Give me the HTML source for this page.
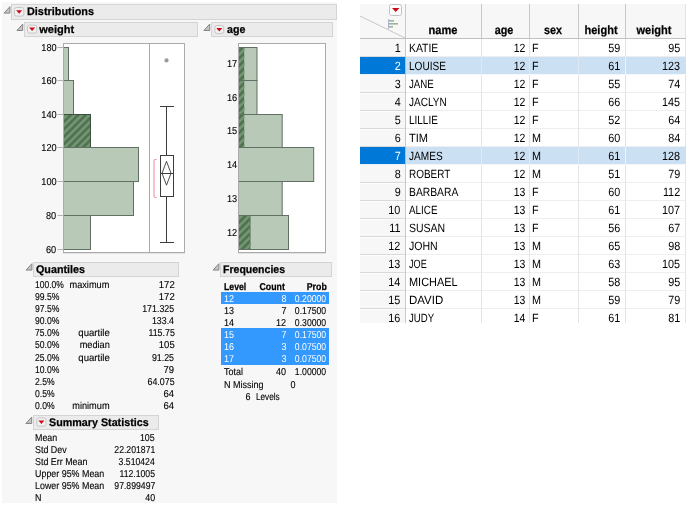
<!DOCTYPE html>
<html><head><meta charset="utf-8"><title>Distributions</title>
<style>
html,body{margin:0;padding:0;background:#fff;}
body{width:689px;height:506px;position:relative;overflow:hidden;font-family:"Liberation Sans",sans-serif;text-rendering:geometricPrecision;}
.t{position:absolute;white-space:nowrap;display:block;}
.b{position:absolute;}
svg{position:absolute;left:0;top:0;}
</style></head><body>
<div class="b" style="left:2px;top:2px;width:335px;height:501px;background:#f7f7f7;"></div>
<div class="b" style="left:11px;top:4px;width:326px;height:16px;background:#ebebeb;border:1px solid #d4d4d4;box-sizing:border-box;"></div>
<div class="b" style="left:24px;top:22px;width:174px;height:15px;background:#ebebeb;border:1px solid #d4d4d4;box-sizing:border-box;"></div>
<div class="b" style="left:211px;top:22px;width:122px;height:15px;background:#ebebeb;border:1px solid #d4d4d4;box-sizing:border-box;"></div>
<div class="b" style="left:33px;top:262px;width:146px;height:15px;background:#ebebeb;border:1px solid #d4d4d4;box-sizing:border-box;"></div>
<div class="b" style="left:33px;top:415px;width:126px;height:15px;background:#ebebeb;border:1px solid #d4d4d4;box-sizing:border-box;"></div>
<div class="b" style="left:220px;top:262px;width:112px;height:15px;background:#ebebeb;border:1px solid #d4d4d4;box-sizing:border-box;"></div>
<div class="b" style="left:221px;top:292px;width:108px;height:12px;background:#3399ff;"></div>
<div class="b" style="left:221px;top:328px;width:108px;height:12px;background:#3399ff;"></div>
<div class="b" style="left:221px;top:340px;width:108px;height:12px;background:#3399ff;"></div>
<div class="b" style="left:221px;top:352px;width:108px;height:13px;background:#3399ff;"></div>
<div class="b" style="left:360px;top:4px;width:326px;height:35px;background:#f7f7f7;"></div>
<div class="b" style="left:360px;top:39px;width:46px;height:284px;background:#f7f7f7;"></div>
<div class="b" style="left:406px;top:39px;width:280px;height:284px;background:#fff;"></div>
<div class="b" style="left:360px;top:56px;width:46px;height:1px;background:#d9d9d9;"></div>
<div class="b" style="left:360px;top:57px;width:45px;height:1px;background:#fdfdfd;"></div>
<div class="b" style="left:406px;top:56px;width:280px;height:1px;background:#eeeef1;"></div>
<div class="b" style="left:360px;top:92px;width:46px;height:1px;background:#d9d9d9;"></div>
<div class="b" style="left:360px;top:93px;width:45px;height:1px;background:#fdfdfd;"></div>
<div class="b" style="left:406px;top:92px;width:280px;height:1px;background:#eeeef1;"></div>
<div class="b" style="left:360px;top:110px;width:46px;height:1px;background:#d9d9d9;"></div>
<div class="b" style="left:360px;top:111px;width:45px;height:1px;background:#fdfdfd;"></div>
<div class="b" style="left:406px;top:110px;width:280px;height:1px;background:#eeeef1;"></div>
<div class="b" style="left:360px;top:128px;width:46px;height:1px;background:#d9d9d9;"></div>
<div class="b" style="left:360px;top:129px;width:45px;height:1px;background:#fdfdfd;"></div>
<div class="b" style="left:406px;top:128px;width:280px;height:1px;background:#eeeef1;"></div>
<div class="b" style="left:360px;top:146px;width:46px;height:1px;background:#d9d9d9;"></div>
<div class="b" style="left:360px;top:147px;width:45px;height:1px;background:#fdfdfd;"></div>
<div class="b" style="left:406px;top:146px;width:280px;height:1px;background:#eeeef1;"></div>
<div class="b" style="left:360px;top:182px;width:46px;height:1px;background:#d9d9d9;"></div>
<div class="b" style="left:360px;top:183px;width:45px;height:1px;background:#fdfdfd;"></div>
<div class="b" style="left:406px;top:182px;width:280px;height:1px;background:#eeeef1;"></div>
<div class="b" style="left:360px;top:200px;width:46px;height:1px;background:#d9d9d9;"></div>
<div class="b" style="left:360px;top:201px;width:45px;height:1px;background:#fdfdfd;"></div>
<div class="b" style="left:406px;top:200px;width:280px;height:1px;background:#eeeef1;"></div>
<div class="b" style="left:360px;top:218px;width:46px;height:1px;background:#d9d9d9;"></div>
<div class="b" style="left:360px;top:219px;width:45px;height:1px;background:#fdfdfd;"></div>
<div class="b" style="left:406px;top:218px;width:280px;height:1px;background:#eeeef1;"></div>
<div class="b" style="left:360px;top:236px;width:46px;height:1px;background:#d9d9d9;"></div>
<div class="b" style="left:360px;top:237px;width:45px;height:1px;background:#fdfdfd;"></div>
<div class="b" style="left:406px;top:236px;width:280px;height:1px;background:#eeeef1;"></div>
<div class="b" style="left:360px;top:254px;width:46px;height:1px;background:#d9d9d9;"></div>
<div class="b" style="left:360px;top:255px;width:45px;height:1px;background:#fdfdfd;"></div>
<div class="b" style="left:406px;top:254px;width:280px;height:1px;background:#eeeef1;"></div>
<div class="b" style="left:360px;top:272px;width:46px;height:1px;background:#d9d9d9;"></div>
<div class="b" style="left:360px;top:273px;width:45px;height:1px;background:#fdfdfd;"></div>
<div class="b" style="left:406px;top:272px;width:280px;height:1px;background:#eeeef1;"></div>
<div class="b" style="left:360px;top:290px;width:46px;height:1px;background:#d9d9d9;"></div>
<div class="b" style="left:360px;top:291px;width:45px;height:1px;background:#fdfdfd;"></div>
<div class="b" style="left:406px;top:290px;width:280px;height:1px;background:#eeeef1;"></div>
<div class="b" style="left:360px;top:308px;width:46px;height:1px;background:#d9d9d9;"></div>
<div class="b" style="left:360px;top:309px;width:45px;height:1px;background:#fdfdfd;"></div>
<div class="b" style="left:406px;top:308px;width:280px;height:1px;background:#eeeef1;"></div>
<div class="b" style="left:405px;top:4px;width:1px;height:35px;background:#c8c8c8;"></div>
<div class="b" style="left:405px;top:39px;width:1px;height:284px;background:#e3e3e8;"></div>
<div class="b" style="left:481px;top:4px;width:1px;height:35px;background:#c8c8c8;"></div>
<div class="b" style="left:481px;top:39px;width:1px;height:284px;background:#e3e3e8;"></div>
<div class="b" style="left:529px;top:4px;width:1px;height:35px;background:#c8c8c8;"></div>
<div class="b" style="left:529px;top:39px;width:1px;height:284px;background:#e3e3e8;"></div>
<div class="b" style="left:578px;top:4px;width:1px;height:35px;background:#c8c8c8;"></div>
<div class="b" style="left:578px;top:39px;width:1px;height:284px;background:#e3e3e8;"></div>
<div class="b" style="left:625px;top:4px;width:1px;height:35px;background:#c8c8c8;"></div>
<div class="b" style="left:625px;top:39px;width:1px;height:284px;background:#e3e3e8;"></div>
<div class="b" style="left:405px;top:39px;width:1px;height:284px;background:#c8c8c8;"></div>
<div class="b" style="left:685px;top:4px;width:1px;height:319px;background:#e3e3e8;"></div>
<div class="b" style="left:360px;top:38px;width:326px;height:1px;background:#c0c0c0;"></div>
<div class="b" style="left:360px;top:74px;width:45px;height:1px;background:#e9f1f9;"></div>
<div class="b" style="left:406px;top:74px;width:280px;height:1px;background:#f4f8fc;"></div>
<div class="b" style="left:360px;top:57px;width:45px;height:17px;background:#0078d7;"></div>
<div class="b" style="left:405px;top:57px;width:1px;height:17px;background:#9fc3e8;"></div>
<div class="b" style="left:406px;top:57px;width:280px;height:17px;background:#cbe1f3;"></div>
<div class="b" style="left:481px;top:57px;width:1px;height:17px;background:#dde9f5;"></div>
<div class="b" style="left:529px;top:57px;width:1px;height:17px;background:#dde9f5;"></div>
<div class="b" style="left:578px;top:57px;width:1px;height:17px;background:#dde9f5;"></div>
<div class="b" style="left:625px;top:57px;width:1px;height:17px;background:#eef4fa;"></div>
<div class="b" style="left:360px;top:164px;width:45px;height:1px;background:#e9f1f9;"></div>
<div class="b" style="left:406px;top:164px;width:280px;height:1px;background:#f4f8fc;"></div>
<div class="b" style="left:360px;top:147px;width:45px;height:17px;background:#0078d7;"></div>
<div class="b" style="left:405px;top:147px;width:1px;height:17px;background:#9fc3e8;"></div>
<div class="b" style="left:406px;top:147px;width:280px;height:17px;background:#cbe1f3;"></div>
<div class="b" style="left:481px;top:147px;width:1px;height:17px;background:#dde9f5;"></div>
<div class="b" style="left:529px;top:147px;width:1px;height:17px;background:#dde9f5;"></div>
<div class="b" style="left:578px;top:147px;width:1px;height:17px;background:#dde9f5;"></div>
<div class="b" style="left:625px;top:147px;width:1px;height:17px;background:#eef4fa;"></div>
<svg width="689" height="506" viewBox="0 0 689 506">
<path d="M9.9 6.7L9.9 13.1L4.1 13.1Z" fill="#c4c4c4" stroke="#858585" stroke-width="1" stroke-linejoin="miter"/>
<rect x="14.5" y="7.5" width="9.3" height="8.6" rx="2" fill="#f1f1f1" stroke="#c6c6c6"/>
<path d="M16.15 10.3L22.15 10.3L19.15 13.700000000000001Z" fill="#cf0a17"/>
<path d="M22.700000000000003 24.099999999999998L22.700000000000003 30.5L16.900000000000002 30.5Z" fill="#c4c4c4" stroke="#858585" stroke-width="1" stroke-linejoin="miter"/>
<rect x="27.5" y="25.1" width="9.2" height="8" rx="2" fill="#f1f1f1" stroke="#c6c6c6"/>
<path d="M29.1 27.6L35.1 27.6L32.1 31.0Z" fill="#cf0a17"/>
<path d="M209.70000000000002 24.099999999999998L209.70000000000002 30.5L203.9 30.5Z" fill="#c4c4c4" stroke="#858585" stroke-width="1" stroke-linejoin="miter"/>
<rect x="214.9" y="25.5" width="8.8" height="8" rx="2" fill="#f1f1f1" stroke="#c6c6c6"/>
<path d="M216.3 28.0L222.3 28.0L219.3 31.4Z" fill="#cf0a17"/>
<path d="M31.9 263.7L31.9 270.1L26.1 270.1Z" fill="#c4c4c4" stroke="#858585" stroke-width="1" stroke-linejoin="miter"/>
<path d="M31.700000000000003 417.09999999999997L31.700000000000003 423.5L25.900000000000002 423.5Z" fill="#c4c4c4" stroke="#858585" stroke-width="1" stroke-linejoin="miter"/>
<rect x="36.8" y="417.9" width="9.2" height="8.3" rx="2" fill="#f1f1f1" stroke="#c6c6c6"/>
<path d="M38.4 420.54999999999995L44.4 420.54999999999995L41.4 423.94999999999993Z" fill="#cf0a17"/>
<path d="M218.9 263.7L218.9 270.1L213.1 270.1Z" fill="#c4c4c4" stroke="#858585" stroke-width="1" stroke-linejoin="miter"/>
<rect x="63" y="43" width="122" height="211" fill="#fff"/>
<line x1="57.5" y1="249.5" x2="63" y2="249.5" stroke="#b4b4b4"/>
<line x1="57.5" y1="215.5" x2="63" y2="215.5" stroke="#b4b4b4"/>
<line x1="57.5" y1="181.5" x2="63" y2="181.5" stroke="#b4b4b4"/>
<line x1="57.5" y1="147.5" x2="63" y2="147.5" stroke="#b4b4b4"/>
<line x1="57.5" y1="114.5" x2="63" y2="114.5" stroke="#b4b4b4"/>
<line x1="57.5" y1="80.5" x2="63" y2="80.5" stroke="#b4b4b4"/>
<line x1="57.5" y1="47.5" x2="63" y2="47.5" stroke="#b4b4b4"/>
<rect x="63.5" y="47.5" width="5" height="33" fill="#b8c9b8" stroke="#607163"/>
<rect x="63.5" y="80.5" width="10" height="34" fill="#b8c9b8" stroke="#607163"/>
<rect x="63.5" y="114.5" width="27" height="33" fill="#b8c9b8" stroke="#607163"/>
<clipPath id="c1"><rect x="64" y="115" width="26" height="32"/></clipPath><g clip-path="url(#c1)"><rect x="64" y="115" width="26" height="32" fill="#527052"/><path d="M55.10 112L17.10 150M62.55 112L24.55 150M70.00 112L32.00 150M77.45 112L39.45 150M84.90 112L46.90 150M92.35 112L54.35 150M99.80 112L61.80 150M107.25 112L69.25 150M114.70 112L76.70 150M122.15 112L84.15 150M129.60 112L91.60 150M137.05 112L99.05 150" stroke="#719671" stroke-width="2.7" fill="none"/></g>
<rect x="63.5" y="114.5" width="27" height="33" fill="none" stroke="#3c5040"/>
<rect x="63.5" y="147.5" width="75" height="34" fill="#b8c9b8" stroke="#607163"/>
<rect x="63.5" y="181.5" width="70" height="34" fill="#b8c9b8" stroke="#607163"/>
<rect x="63.5" y="215.5" width="27" height="34" fill="#b8c9b8" stroke="#607163"/>
<circle cx="166.5" cy="60.47" r="2.1" fill="#9a9a9a"/>
<line x1="166.5" y1="106.5" x2="166.5" y2="155.5" stroke="#3c3c3c"/>
<line x1="166.5" y1="196.5" x2="166.5" y2="242.5" stroke="#3c3c3c"/>
<line x1="160" y1="106.5" x2="174" y2="106.5" stroke="#3c3c3c"/>
<line x1="160" y1="242.5" x2="174" y2="242.5" stroke="#3c3c3c"/>
<rect x="160.5" y="155.5" width="13" height="41" fill="none" stroke="#3c3c3c"/>
<line x1="160.5" y1="173.5" x2="173.5" y2="173.5" stroke="#3c3c3c"/>
<path d="M166.5 161.30L171 173.25L166.5 185.20L162 173.25Z" fill="none" stroke="#3c3c3c" stroke-width="0.9"/>
<path d="M156.5 159.5L155 159.5Q154 159.5 154 161L154 196Q154 197.5 155 197.5L156.5 197.5" fill="none" stroke="#f08a9b" stroke-width="1"/>
<rect x="238" y="43" width="88" height="211" fill="#fff"/>
<rect x="238.5" y="47.5" width="18.50" height="33" fill="#b8c9b8"/>
<clipPath id="c2"><rect x="238.5" y="48" width="5.9" height="32"/></clipPath><g clip-path="url(#c2)"><rect x="238.5" y="48" width="5.9" height="32" fill="#527052"/><path d="M233.85 45L195.85 83M241.30 45L203.30 83M248.75 45L210.75 83M256.20 45L218.20 83M263.65 45L225.65 83M271.10 45L233.10 83M278.55 45L240.55 83M286.00 45L248.00 83M293.45 45L255.45 83" stroke="#719671" stroke-width="2.7" fill="none"/></g>
<path d="M238.5 47.5L257.00 47.5M238.5 80.5L257.00 80.5M257.00 47L257.00 81" fill="none" stroke="#607163"/>
<rect x="238.5" y="80.5" width="18.50" height="34" fill="#b8c9b8"/>
<clipPath id="c3"><rect x="238.5" y="81" width="5.9" height="33"/></clipPath><g clip-path="url(#c3)"><rect x="238.5" y="81" width="5.9" height="33" fill="#527052"/><path d="M230.65 78L191.65 117M238.10 78L199.10 117M245.55 78L206.55 117M253.00 78L214.00 117M260.45 78L221.45 117M267.90 78L228.90 117M275.35 78L236.35 117M282.80 78L243.80 117M290.25 78L251.25 117" stroke="#719671" stroke-width="2.7" fill="none"/></g>
<path d="M238.5 80.5L257.00 80.5M238.5 114.5L257.00 114.5M257.00 80L257.00 115" fill="none" stroke="#607163"/>
<rect x="238.5" y="114.5" width="43.70" height="33" fill="#b8c9b8"/>
<clipPath id="c4"><rect x="238.5" y="115" width="5.9" height="32"/></clipPath><g clip-path="url(#c4)"><rect x="238.5" y="115" width="5.9" height="32" fill="#527052"/><path d="M233.90 112L195.90 150M241.35 112L203.35 150M248.80 112L210.80 150M256.25 112L218.25 150M263.70 112L225.70 150M271.15 112L233.15 150M278.60 112L240.60 150M286.05 112L248.05 150M293.50 112L255.50 150" stroke="#719671" stroke-width="2.7" fill="none"/></g>
<path d="M238.5 114.5L282.20 114.5M238.5 147.5L282.20 147.5M282.20 114L282.20 148" fill="none" stroke="#607163"/>
<rect x="238.5" y="147.5" width="75.20" height="34" fill="#b8c9b8"/>
<path d="M238.5 147.5L313.70 147.5M238.5 181.5L313.70 181.5M313.70 147L313.70 182" fill="none" stroke="#607163"/>
<rect x="238.5" y="181.5" width="43.70" height="34" fill="#b8c9b8"/>
<path d="M238.5 181.5L282.20 181.5M238.5 215.5L282.20 215.5M282.20 181L282.20 216" fill="none" stroke="#607163"/>
<rect x="238.5" y="215.5" width="50.00" height="34" fill="#b8c9b8"/>
<clipPath id="c5"><rect x="238.5" y="216" width="12.2" height="33"/></clipPath><g clip-path="url(#c5)"><rect x="238.5" y="216" width="12.2" height="33" fill="#527052"/><path d="M229.75 213L190.75 252M237.20 213L198.20 252M244.65 213L205.65 252M252.10 213L213.10 252M259.55 213L220.55 252M267.00 213L228.00 252M274.45 213L235.45 252M281.90 213L242.90 252M289.35 213L250.35 252M296.80 213L257.80 252" stroke="#719671" stroke-width="2.7" fill="none"/></g>
<path d="M238.5 215.5L288.50 215.5M238.5 249.5L288.50 249.5M288.50 215L288.50 250" fill="none" stroke="#607163"/>
<rect x="63.5" y="43.5" width="121" height="209" fill="none" stroke="#ababab"/>
<line x1="63" y1="253.5" x2="185" y2="253.5" stroke="#e2e2e2"/>
<line x1="149.5" y1="43.5" x2="149.5" y2="252.5" stroke="#ababab"/>
<rect x="238.5" y="43.5" width="87" height="209" fill="none" stroke="#ababab"/>
<line x1="238" y1="253.5" x2="326" y2="253.5" stroke="#e2e2e2"/>
<line x1="360" y1="16" x2="405" y2="38" stroke="#c8c8c8"/>
<rect x="389.5" y="4.5" width="12" height="11" rx="2" fill="#fbfbfb" stroke="#c4c4c4"/>
<path d="M392 8L399.4 8L395.7 12Z" fill="#cf0a17"/>
<line x1="388.5" y1="19" x2="388.5" y2="29" stroke="#a9b8cc"/>
<rect x="389" y="20" width="5" height="1.6" fill="#9db29d"/><rect x="389" y="23" width="9" height="1.6" fill="#9db29d"/><rect x="389" y="26" width="4" height="1.6" fill="#9db29d"/>
</svg>
<span class="t" style="top:7px;font-size:11px;line-height:11px;color:#000;font-weight:bold;-webkit-text-stroke:0.25px currentColor;left:27.00px;transform-origin:0 8px;transform:scaleX(0.988);">Distributions</span>
<span class="t" style="top:25px;font-size:11px;line-height:11px;color:#000;font-weight:bold;-webkit-text-stroke:0.25px currentColor;left:39.30px;transform-origin:0 8px;transform:scaleX(1.0);">weight</span>
<span class="t" style="top:25px;font-size:11px;line-height:11px;color:#000;font-weight:bold;-webkit-text-stroke:0.25px currentColor;left:226.60px;transform-origin:0 8px;transform:scaleX(0.97);">age</span>
<span class="t" style="top:265px;font-size:11px;line-height:11px;color:#000;font-weight:bold;-webkit-text-stroke:0.25px currentColor;left:35.70px;transform-origin:0 8px;transform:scaleX(0.978);">Quantiles</span>
<span class="t" style="top:418px;font-size:11px;line-height:11px;color:#000;font-weight:bold;-webkit-text-stroke:0.25px currentColor;left:48.60px;transform-origin:0 8px;transform:scaleX(0.976);">Summary Statistics</span>
<span class="t" style="top:265px;font-size:11px;line-height:11px;color:#000;font-weight:bold;-webkit-text-stroke:0.25px currentColor;left:223.00px;transform-origin:0 8px;transform:scaleX(0.957);">Frequencies</span>
<span class="t" style="top:246px;font-size:10px;line-height:10px;color:#000;-webkit-text-stroke:0.12px currentColor;right:632.80px;transform-origin:100% 7px;transform:scaleX(0.92);">60</span>
<span class="t" style="top:212px;font-size:10px;line-height:10px;color:#000;-webkit-text-stroke:0.12px currentColor;right:632.80px;transform-origin:100% 7px;transform:scaleX(0.92);">80</span>
<span class="t" style="top:178px;font-size:10px;line-height:10px;color:#000;-webkit-text-stroke:0.12px currentColor;right:632.80px;transform-origin:100% 7px;transform:scaleX(0.92);">100</span>
<span class="t" style="top:144px;font-size:10px;line-height:10px;color:#000;-webkit-text-stroke:0.12px currentColor;right:632.80px;transform-origin:100% 7px;transform:scaleX(0.92);">120</span>
<span class="t" style="top:111px;font-size:10px;line-height:10px;color:#000;-webkit-text-stroke:0.12px currentColor;right:632.80px;transform-origin:100% 7px;transform:scaleX(0.92);">140</span>
<span class="t" style="top:77px;font-size:10px;line-height:10px;color:#000;-webkit-text-stroke:0.12px currentColor;right:632.80px;transform-origin:100% 7px;transform:scaleX(0.92);">160</span>
<span class="t" style="top:44px;font-size:10px;line-height:10px;color:#000;-webkit-text-stroke:0.12px currentColor;right:632.80px;transform-origin:100% 7px;transform:scaleX(0.92);">180</span>
<span class="t" style="top:60px;font-size:10px;line-height:10px;color:#000;-webkit-text-stroke:0.12px currentColor;right:452.20px;transform-origin:100% 7px;transform:scaleX(0.92);">17</span>
<span class="t" style="top:94px;font-size:10px;line-height:10px;color:#000;-webkit-text-stroke:0.12px currentColor;right:452.20px;transform-origin:100% 7px;transform:scaleX(0.92);">16</span>
<span class="t" style="top:127px;font-size:10px;line-height:10px;color:#000;-webkit-text-stroke:0.12px currentColor;right:452.20px;transform-origin:100% 7px;transform:scaleX(0.92);">15</span>
<span class="t" style="top:161px;font-size:10px;line-height:10px;color:#000;-webkit-text-stroke:0.12px currentColor;right:452.20px;transform-origin:100% 7px;transform:scaleX(0.92);">14</span>
<span class="t" style="top:195px;font-size:10px;line-height:10px;color:#000;-webkit-text-stroke:0.12px currentColor;right:452.20px;transform-origin:100% 7px;transform:scaleX(0.92);">13</span>
<span class="t" style="top:229px;font-size:10px;line-height:10px;color:#000;-webkit-text-stroke:0.12px currentColor;right:452.20px;transform-origin:100% 7px;transform:scaleX(0.92);">12</span>
<span class="t" style="top:281px;font-size:10px;line-height:10px;color:#000;-webkit-text-stroke:0.12px currentColor;left:35.00px;transform-origin:0 7px;transform:scaleX(0.85);">100.0%</span>
<span class="t" style="top:281px;font-size:10px;line-height:10px;color:#000;-webkit-text-stroke:0.12px currentColor;right:579.50px;transform-origin:100% 7px;transform:scaleX(0.92);">maximum</span>
<span class="t" style="top:281px;font-size:10px;line-height:10px;color:#000;-webkit-text-stroke:0.12px currentColor;right:514.60px;transform-origin:100% 7px;transform:scaleX(0.95);">172</span>
<span class="t" style="top:293px;font-size:10px;line-height:10px;color:#000;-webkit-text-stroke:0.12px currentColor;left:35.00px;transform-origin:0 7px;transform:scaleX(0.86);">99.5%</span>
<span class="t" style="top:293px;font-size:10px;line-height:10px;color:#000;-webkit-text-stroke:0.12px currentColor;right:514.60px;transform-origin:100% 7px;transform:scaleX(0.95);">172</span>
<span class="t" style="top:305px;font-size:10px;line-height:10px;color:#000;-webkit-text-stroke:0.12px currentColor;left:35.00px;transform-origin:0 7px;transform:scaleX(0.86);">97.5%</span>
<span class="t" style="top:305px;font-size:10px;line-height:10px;color:#000;-webkit-text-stroke:0.12px currentColor;right:514.60px;transform-origin:100% 7px;transform:scaleX(0.885);">171.325</span>
<span class="t" style="top:317px;font-size:10px;line-height:10px;color:#000;-webkit-text-stroke:0.12px currentColor;left:35.00px;transform-origin:0 7px;transform:scaleX(0.86);">90.0%</span>
<span class="t" style="top:317px;font-size:10px;line-height:10px;color:#000;-webkit-text-stroke:0.12px currentColor;right:514.60px;transform-origin:100% 7px;transform:scaleX(0.885);">133.4</span>
<span class="t" style="top:329px;font-size:10px;line-height:10px;color:#000;-webkit-text-stroke:0.12px currentColor;left:35.00px;transform-origin:0 7px;transform:scaleX(0.86);">75.0%</span>
<span class="t" style="top:329px;font-size:10px;line-height:10px;color:#000;-webkit-text-stroke:0.12px currentColor;right:579.50px;transform-origin:100% 7px;transform:scaleX(0.96);">quartile</span>
<span class="t" style="top:329px;font-size:10px;line-height:10px;color:#000;-webkit-text-stroke:0.12px currentColor;right:514.60px;transform-origin:100% 7px;transform:scaleX(0.885);">115.75</span>
<span class="t" style="top:341px;font-size:10px;line-height:10px;color:#000;-webkit-text-stroke:0.12px currentColor;left:35.00px;transform-origin:0 7px;transform:scaleX(0.86);">50.0%</span>
<span class="t" style="top:341px;font-size:10px;line-height:10px;color:#000;-webkit-text-stroke:0.12px currentColor;right:579.50px;transform-origin:100% 7px;transform:scaleX(0.92);">median</span>
<span class="t" style="top:341px;font-size:10px;line-height:10px;color:#000;-webkit-text-stroke:0.12px currentColor;right:514.60px;transform-origin:100% 7px;transform:scaleX(0.95);">105</span>
<span class="t" style="top:354px;font-size:10px;line-height:10px;color:#000;-webkit-text-stroke:0.12px currentColor;left:35.00px;transform-origin:0 7px;transform:scaleX(0.86);">25.0%</span>
<span class="t" style="top:354px;font-size:10px;line-height:10px;color:#000;-webkit-text-stroke:0.12px currentColor;right:579.50px;transform-origin:100% 7px;transform:scaleX(0.96);">quartile</span>
<span class="t" style="top:354px;font-size:10px;line-height:10px;color:#000;-webkit-text-stroke:0.12px currentColor;right:514.60px;transform-origin:100% 7px;transform:scaleX(0.885);">91.25</span>
<span class="t" style="top:366px;font-size:10px;line-height:10px;color:#000;-webkit-text-stroke:0.12px currentColor;left:35.00px;transform-origin:0 7px;transform:scaleX(0.86);">10.0%</span>
<span class="t" style="top:366px;font-size:10px;line-height:10px;color:#000;-webkit-text-stroke:0.12px currentColor;right:514.60px;transform-origin:100% 7px;transform:scaleX(0.95);">79</span>
<span class="t" style="top:378px;font-size:10px;line-height:10px;color:#000;-webkit-text-stroke:0.12px currentColor;left:35.00px;transform-origin:0 7px;transform:scaleX(0.86);">2.5%</span>
<span class="t" style="top:378px;font-size:10px;line-height:10px;color:#000;-webkit-text-stroke:0.12px currentColor;right:514.60px;transform-origin:100% 7px;transform:scaleX(0.885);">64.075</span>
<span class="t" style="top:390px;font-size:10px;line-height:10px;color:#000;-webkit-text-stroke:0.12px currentColor;left:35.00px;transform-origin:0 7px;transform:scaleX(0.86);">0.5%</span>
<span class="t" style="top:390px;font-size:10px;line-height:10px;color:#000;-webkit-text-stroke:0.12px currentColor;right:514.60px;transform-origin:100% 7px;transform:scaleX(0.95);">64</span>
<span class="t" style="top:402px;font-size:10px;line-height:10px;color:#000;-webkit-text-stroke:0.12px currentColor;left:35.00px;transform-origin:0 7px;transform:scaleX(0.86);">0.0%</span>
<span class="t" style="top:402px;font-size:10px;line-height:10px;color:#000;-webkit-text-stroke:0.12px currentColor;right:579.50px;transform-origin:100% 7px;transform:scaleX(0.92);">minimum</span>
<span class="t" style="top:402px;font-size:10px;line-height:10px;color:#000;-webkit-text-stroke:0.12px currentColor;right:514.60px;transform-origin:100% 7px;transform:scaleX(0.95);">64</span>
<span class="t" style="top:434px;font-size:10px;line-height:10px;color:#000;-webkit-text-stroke:0.12px currentColor;left:34.60px;transform-origin:0 7px;transform:scaleX(0.89);">Mean</span>
<span class="t" style="top:434px;font-size:10px;line-height:10px;color:#000;-webkit-text-stroke:0.12px currentColor;right:534.20px;transform-origin:100% 7px;transform:scaleX(0.885);">105</span>
<span class="t" style="top:446px;font-size:10px;line-height:10px;color:#000;-webkit-text-stroke:0.12px currentColor;left:34.60px;transform-origin:0 7px;transform:scaleX(0.89);">Std Dev</span>
<span class="t" style="top:446px;font-size:10px;line-height:10px;color:#000;-webkit-text-stroke:0.12px currentColor;right:534.20px;transform-origin:100% 7px;transform:scaleX(0.866);">22.201871</span>
<span class="t" style="top:458px;font-size:10px;line-height:10px;color:#000;-webkit-text-stroke:0.12px currentColor;left:34.60px;transform-origin:0 7px;transform:scaleX(0.89);">Std Err Mean</span>
<span class="t" style="top:458px;font-size:10px;line-height:10px;color:#000;-webkit-text-stroke:0.12px currentColor;right:534.20px;transform-origin:100% 7px;transform:scaleX(0.866);">3.510424</span>
<span class="t" style="top:470px;font-size:10px;line-height:10px;color:#000;-webkit-text-stroke:0.12px currentColor;left:34.60px;transform-origin:0 7px;transform:scaleX(0.89);">Upper 95% Mean</span>
<span class="t" style="top:470px;font-size:10px;line-height:10px;color:#000;-webkit-text-stroke:0.12px currentColor;right:534.20px;transform-origin:100% 7px;transform:scaleX(0.866);">112.1005</span>
<span class="t" style="top:482px;font-size:10px;line-height:10px;color:#000;-webkit-text-stroke:0.12px currentColor;left:34.60px;transform-origin:0 7px;transform:scaleX(0.89);">Lower 95% Mean</span>
<span class="t" style="top:482px;font-size:10px;line-height:10px;color:#000;-webkit-text-stroke:0.12px currentColor;right:534.20px;transform-origin:100% 7px;transform:scaleX(0.866);">97.899497</span>
<span class="t" style="top:494px;font-size:10px;line-height:10px;color:#000;-webkit-text-stroke:0.12px currentColor;left:34.60px;transform-origin:0 7px;transform:scaleX(0.89);">N</span>
<span class="t" style="top:494px;font-size:10px;line-height:10px;color:#000;-webkit-text-stroke:0.12px currentColor;right:534.20px;transform-origin:100% 7px;transform:scaleX(0.885);">40</span>
<span class="t" style="top:283px;font-size:10px;line-height:10px;color:#000;font-weight:bold;-webkit-text-stroke:0.25px currentColor;left:223.70px;transform-origin:0 7px;transform:scaleX(0.87);">Level</span>
<span class="t" style="top:283px;font-size:10px;line-height:10px;color:#000;font-weight:bold;-webkit-text-stroke:0.25px currentColor;right:404.10px;transform-origin:100% 7px;transform:scaleX(0.88);">Count</span>
<span class="t" style="top:283px;font-size:10px;line-height:10px;color:#000;font-weight:bold;-webkit-text-stroke:0.25px currentColor;right:361.80px;transform-origin:100% 7px;transform:scaleX(0.88);">Prob</span>
<span class="t" style="top:295px;font-size:10px;line-height:10px;color:#fff;left:223.70px;transform-origin:0 7px;transform:scaleX(0.9);">12</span>
<span class="t" style="top:295px;font-size:10px;line-height:10px;color:#fff;right:402.40px;transform-origin:100% 7px;transform:scaleX(0.9);">8</span>
<span class="t" style="top:295px;font-size:10px;line-height:10px;color:#fff;right:363.30px;transform-origin:100% 7px;transform:scaleX(0.866);">0.20000</span>
<span class="t" style="top:307px;font-size:10px;line-height:10px;color:#000;-webkit-text-stroke:0.12px currentColor;left:223.70px;transform-origin:0 7px;transform:scaleX(0.9);">13</span>
<span class="t" style="top:307px;font-size:10px;line-height:10px;color:#000;-webkit-text-stroke:0.12px currentColor;right:402.40px;transform-origin:100% 7px;transform:scaleX(0.9);">7</span>
<span class="t" style="top:307px;font-size:10px;line-height:10px;color:#000;-webkit-text-stroke:0.12px currentColor;right:363.30px;transform-origin:100% 7px;transform:scaleX(0.866);">0.17500</span>
<span class="t" style="top:319px;font-size:10px;line-height:10px;color:#000;-webkit-text-stroke:0.12px currentColor;left:223.70px;transform-origin:0 7px;transform:scaleX(0.9);">14</span>
<span class="t" style="top:319px;font-size:10px;line-height:10px;color:#000;-webkit-text-stroke:0.12px currentColor;right:402.40px;transform-origin:100% 7px;transform:scaleX(0.9);">12</span>
<span class="t" style="top:319px;font-size:10px;line-height:10px;color:#000;-webkit-text-stroke:0.12px currentColor;right:363.30px;transform-origin:100% 7px;transform:scaleX(0.866);">0.30000</span>
<span class="t" style="top:331px;font-size:10px;line-height:10px;color:#fff;left:223.70px;transform-origin:0 7px;transform:scaleX(0.9);">15</span>
<span class="t" style="top:331px;font-size:10px;line-height:10px;color:#fff;right:402.40px;transform-origin:100% 7px;transform:scaleX(0.9);">7</span>
<span class="t" style="top:331px;font-size:10px;line-height:10px;color:#fff;right:363.30px;transform-origin:100% 7px;transform:scaleX(0.866);">0.17500</span>
<span class="t" style="top:343px;font-size:10px;line-height:10px;color:#fff;left:223.70px;transform-origin:0 7px;transform:scaleX(0.9);">16</span>
<span class="t" style="top:343px;font-size:10px;line-height:10px;color:#fff;right:402.40px;transform-origin:100% 7px;transform:scaleX(0.9);">3</span>
<span class="t" style="top:343px;font-size:10px;line-height:10px;color:#fff;right:363.30px;transform-origin:100% 7px;transform:scaleX(0.866);">0.07500</span>
<span class="t" style="top:355px;font-size:10px;line-height:10px;color:#fff;left:223.70px;transform-origin:0 7px;transform:scaleX(0.9);">17</span>
<span class="t" style="top:355px;font-size:10px;line-height:10px;color:#fff;right:402.40px;transform-origin:100% 7px;transform:scaleX(0.9);">3</span>
<span class="t" style="top:355px;font-size:10px;line-height:10px;color:#fff;right:363.30px;transform-origin:100% 7px;transform:scaleX(0.866);">0.07500</span>
<span class="t" style="top:368px;font-size:10px;line-height:10px;color:#000;-webkit-text-stroke:0.12px currentColor;left:223.70px;transform-origin:0 7px;transform:scaleX(0.9);">Total</span>
<span class="t" style="top:368px;font-size:10px;line-height:10px;color:#000;-webkit-text-stroke:0.12px currentColor;right:402.40px;transform-origin:100% 7px;transform:scaleX(0.9);">40</span>
<span class="t" style="top:368px;font-size:10px;line-height:10px;color:#000;-webkit-text-stroke:0.12px currentColor;right:363.30px;transform-origin:100% 7px;transform:scaleX(0.866);">1.00000</span>
<span class="t" style="top:381px;font-size:10px;line-height:10px;color:#000;-webkit-text-stroke:0.12px currentColor;left:223.60px;transform-origin:0 7px;transform:scaleX(0.9);">N Missing</span>
<span class="t" style="top:381px;font-size:10px;line-height:10px;color:#000;-webkit-text-stroke:0.12px currentColor;right:393.80px;transform-origin:100% 7px;transform:scaleX(0.9);">0</span>
<span class="t" style="top:393px;font-size:10px;line-height:10px;color:#000;-webkit-text-stroke:0.12px currentColor;right:438.80px;transform-origin:100% 7px;transform:scaleX(0.9);">6</span>
<span class="t" style="top:393px;font-size:10px;line-height:10px;color:#000;-webkit-text-stroke:0.12px currentColor;left:255.60px;transform-origin:0 7px;transform:scaleX(0.82);">Levels</span>
<span class="t" style="top:42px;font-size:12px;line-height:12px;color:#000;right:288.20px;transform-origin:100% 10px;transform:scaleX(0.9);">1</span>
<span class="t" style="top:42px;font-size:12px;line-height:12px;color:#000;left:408.70px;transform-origin:0 10px;transform:scaleX(0.865);">KATIE</span>
<span class="t" style="top:42px;font-size:12px;line-height:12px;color:#000;right:163.60px;transform-origin:100% 10px;transform:scaleX(0.87);">12</span>
<span class="t" style="top:42px;font-size:12px;line-height:12px;color:#000;left:532.40px;transform-origin:0 10px;transform:scaleX(0.9);">F</span>
<span class="t" style="top:42px;font-size:12px;line-height:12px;color:#000;right:68.40px;transform-origin:100% 10px;transform:scaleX(0.9);">59</span>
<span class="t" style="top:42px;font-size:12px;line-height:12px;color:#000;right:8.70px;transform-origin:100% 10px;transform:scaleX(0.9);">95</span>
<span class="t" style="top:60px;font-size:12px;line-height:12px;color:#fff;right:288.20px;transform-origin:100% 10px;transform:scaleX(0.9);">2</span>
<span class="t" style="top:60px;font-size:12px;line-height:12px;color:#000;left:408.70px;transform-origin:0 10px;transform:scaleX(0.84);">LOUISE</span>
<span class="t" style="top:60px;font-size:12px;line-height:12px;color:#000;right:163.60px;transform-origin:100% 10px;transform:scaleX(0.87);">12</span>
<span class="t" style="top:60px;font-size:12px;line-height:12px;color:#000;left:532.40px;transform-origin:0 10px;transform:scaleX(0.9);">F</span>
<span class="t" style="top:60px;font-size:12px;line-height:12px;color:#000;right:68.40px;transform-origin:100% 10px;transform:scaleX(0.9);">61</span>
<span class="t" style="top:60px;font-size:12px;line-height:12px;color:#000;right:8.70px;transform-origin:100% 10px;transform:scaleX(0.9);">123</span>
<span class="t" style="top:78px;font-size:12px;line-height:12px;color:#000;right:288.20px;transform-origin:100% 10px;transform:scaleX(0.9);">3</span>
<span class="t" style="top:78px;font-size:12px;line-height:12px;color:#000;left:408.70px;transform-origin:0 10px;transform:scaleX(0.81);">JANE</span>
<span class="t" style="top:78px;font-size:12px;line-height:12px;color:#000;right:163.60px;transform-origin:100% 10px;transform:scaleX(0.87);">12</span>
<span class="t" style="top:78px;font-size:12px;line-height:12px;color:#000;left:532.40px;transform-origin:0 10px;transform:scaleX(0.9);">F</span>
<span class="t" style="top:78px;font-size:12px;line-height:12px;color:#000;right:68.40px;transform-origin:100% 10px;transform:scaleX(0.9);">55</span>
<span class="t" style="top:78px;font-size:12px;line-height:12px;color:#000;right:8.70px;transform-origin:100% 10px;transform:scaleX(0.9);">74</span>
<span class="t" style="top:96px;font-size:12px;line-height:12px;color:#000;right:288.20px;transform-origin:100% 10px;transform:scaleX(0.9);">4</span>
<span class="t" style="top:96px;font-size:12px;line-height:12px;color:#000;left:408.70px;transform-origin:0 10px;transform:scaleX(0.835);">JACLYN</span>
<span class="t" style="top:96px;font-size:12px;line-height:12px;color:#000;right:163.60px;transform-origin:100% 10px;transform:scaleX(0.87);">12</span>
<span class="t" style="top:96px;font-size:12px;line-height:12px;color:#000;left:532.40px;transform-origin:0 10px;transform:scaleX(0.9);">F</span>
<span class="t" style="top:96px;font-size:12px;line-height:12px;color:#000;right:68.40px;transform-origin:100% 10px;transform:scaleX(0.9);">66</span>
<span class="t" style="top:96px;font-size:12px;line-height:12px;color:#000;right:8.70px;transform-origin:100% 10px;transform:scaleX(0.9);">145</span>
<span class="t" style="top:114px;font-size:12px;line-height:12px;color:#000;right:288.20px;transform-origin:100% 10px;transform:scaleX(0.9);">5</span>
<span class="t" style="top:114px;font-size:12px;line-height:12px;color:#000;left:408.70px;transform-origin:0 10px;transform:scaleX(0.83);">LILLIE</span>
<span class="t" style="top:114px;font-size:12px;line-height:12px;color:#000;right:163.60px;transform-origin:100% 10px;transform:scaleX(0.87);">12</span>
<span class="t" style="top:114px;font-size:12px;line-height:12px;color:#000;left:532.40px;transform-origin:0 10px;transform:scaleX(0.9);">F</span>
<span class="t" style="top:114px;font-size:12px;line-height:12px;color:#000;right:68.40px;transform-origin:100% 10px;transform:scaleX(0.9);">52</span>
<span class="t" style="top:114px;font-size:12px;line-height:12px;color:#000;right:8.70px;transform-origin:100% 10px;transform:scaleX(0.9);">64</span>
<span class="t" style="top:132px;font-size:12px;line-height:12px;color:#000;right:288.20px;transform-origin:100% 10px;transform:scaleX(0.9);">6</span>
<span class="t" style="top:132px;font-size:12px;line-height:12px;color:#000;left:408.70px;transform-origin:0 10px;transform:scaleX(0.92);">TIM</span>
<span class="t" style="top:132px;font-size:12px;line-height:12px;color:#000;right:163.60px;transform-origin:100% 10px;transform:scaleX(0.87);">12</span>
<span class="t" style="top:132px;font-size:12px;line-height:12px;color:#000;left:532.40px;transform-origin:0 10px;transform:scaleX(0.9);">M</span>
<span class="t" style="top:132px;font-size:12px;line-height:12px;color:#000;right:68.40px;transform-origin:100% 10px;transform:scaleX(0.9);">60</span>
<span class="t" style="top:132px;font-size:12px;line-height:12px;color:#000;right:8.70px;transform-origin:100% 10px;transform:scaleX(0.9);">84</span>
<span class="t" style="top:150px;font-size:12px;line-height:12px;color:#fff;right:288.20px;transform-origin:100% 10px;transform:scaleX(0.9);">7</span>
<span class="t" style="top:150px;font-size:12px;line-height:12px;color:#000;left:408.70px;transform-origin:0 10px;transform:scaleX(0.84);">JAMES</span>
<span class="t" style="top:150px;font-size:12px;line-height:12px;color:#000;right:163.60px;transform-origin:100% 10px;transform:scaleX(0.87);">12</span>
<span class="t" style="top:150px;font-size:12px;line-height:12px;color:#000;left:532.40px;transform-origin:0 10px;transform:scaleX(0.9);">M</span>
<span class="t" style="top:150px;font-size:12px;line-height:12px;color:#000;right:68.40px;transform-origin:100% 10px;transform:scaleX(0.9);">61</span>
<span class="t" style="top:150px;font-size:12px;line-height:12px;color:#000;right:8.70px;transform-origin:100% 10px;transform:scaleX(0.9);">128</span>
<span class="t" style="top:168px;font-size:12px;line-height:12px;color:#000;right:288.20px;transform-origin:100% 10px;transform:scaleX(0.9);">8</span>
<span class="t" style="top:168px;font-size:12px;line-height:12px;color:#000;left:408.70px;transform-origin:0 10px;transform:scaleX(0.83);">ROBERT</span>
<span class="t" style="top:168px;font-size:12px;line-height:12px;color:#000;right:163.60px;transform-origin:100% 10px;transform:scaleX(0.87);">12</span>
<span class="t" style="top:168px;font-size:12px;line-height:12px;color:#000;left:532.40px;transform-origin:0 10px;transform:scaleX(0.9);">M</span>
<span class="t" style="top:168px;font-size:12px;line-height:12px;color:#000;right:68.40px;transform-origin:100% 10px;transform:scaleX(0.9);">51</span>
<span class="t" style="top:168px;font-size:12px;line-height:12px;color:#000;right:8.70px;transform-origin:100% 10px;transform:scaleX(0.9);">79</span>
<span class="t" style="top:186px;font-size:12px;line-height:12px;color:#000;right:288.20px;transform-origin:100% 10px;transform:scaleX(0.9);">9</span>
<span class="t" style="top:186px;font-size:12px;line-height:12px;color:#000;left:408.70px;transform-origin:0 10px;transform:scaleX(0.86);">BARBARA</span>
<span class="t" style="top:186px;font-size:12px;line-height:12px;color:#000;right:163.60px;transform-origin:100% 10px;transform:scaleX(0.87);">13</span>
<span class="t" style="top:186px;font-size:12px;line-height:12px;color:#000;left:532.40px;transform-origin:0 10px;transform:scaleX(0.9);">F</span>
<span class="t" style="top:186px;font-size:12px;line-height:12px;color:#000;right:68.40px;transform-origin:100% 10px;transform:scaleX(0.9);">60</span>
<span class="t" style="top:186px;font-size:12px;line-height:12px;color:#000;right:8.70px;transform-origin:100% 10px;transform:scaleX(0.9);">112</span>
<span class="t" style="top:204px;font-size:12px;line-height:12px;color:#000;right:288.20px;transform-origin:100% 10px;transform:scaleX(0.9);">10</span>
<span class="t" style="top:204px;font-size:12px;line-height:12px;color:#000;left:408.70px;transform-origin:0 10px;transform:scaleX(0.82);">ALICE</span>
<span class="t" style="top:204px;font-size:12px;line-height:12px;color:#000;right:163.60px;transform-origin:100% 10px;transform:scaleX(0.87);">13</span>
<span class="t" style="top:204px;font-size:12px;line-height:12px;color:#000;left:532.40px;transform-origin:0 10px;transform:scaleX(0.9);">F</span>
<span class="t" style="top:204px;font-size:12px;line-height:12px;color:#000;right:68.40px;transform-origin:100% 10px;transform:scaleX(0.9);">61</span>
<span class="t" style="top:204px;font-size:12px;line-height:12px;color:#000;right:8.70px;transform-origin:100% 10px;transform:scaleX(0.9);">107</span>
<span class="t" style="top:222px;font-size:12px;line-height:12px;color:#000;right:288.20px;transform-origin:100% 10px;transform:scaleX(0.9);">11</span>
<span class="t" style="top:222px;font-size:12px;line-height:12px;color:#000;left:408.70px;transform-origin:0 10px;transform:scaleX(0.875);">SUSAN</span>
<span class="t" style="top:222px;font-size:12px;line-height:12px;color:#000;right:163.60px;transform-origin:100% 10px;transform:scaleX(0.87);">13</span>
<span class="t" style="top:222px;font-size:12px;line-height:12px;color:#000;left:532.40px;transform-origin:0 10px;transform:scaleX(0.9);">F</span>
<span class="t" style="top:222px;font-size:12px;line-height:12px;color:#000;right:68.40px;transform-origin:100% 10px;transform:scaleX(0.9);">56</span>
<span class="t" style="top:222px;font-size:12px;line-height:12px;color:#000;right:8.70px;transform-origin:100% 10px;transform:scaleX(0.9);">67</span>
<span class="t" style="top:240px;font-size:12px;line-height:12px;color:#000;right:288.20px;transform-origin:100% 10px;transform:scaleX(0.9);">12</span>
<span class="t" style="top:240px;font-size:12px;line-height:12px;color:#000;left:408.70px;transform-origin:0 10px;transform:scaleX(0.88);">JOHN</span>
<span class="t" style="top:240px;font-size:12px;line-height:12px;color:#000;right:163.60px;transform-origin:100% 10px;transform:scaleX(0.87);">13</span>
<span class="t" style="top:240px;font-size:12px;line-height:12px;color:#000;left:532.40px;transform-origin:0 10px;transform:scaleX(0.9);">M</span>
<span class="t" style="top:240px;font-size:12px;line-height:12px;color:#000;right:68.40px;transform-origin:100% 10px;transform:scaleX(0.9);">65</span>
<span class="t" style="top:240px;font-size:12px;line-height:12px;color:#000;right:8.70px;transform-origin:100% 10px;transform:scaleX(0.9);">98</span>
<span class="t" style="top:258px;font-size:12px;line-height:12px;color:#000;right:288.20px;transform-origin:100% 10px;transform:scaleX(0.9);">13</span>
<span class="t" style="top:258px;font-size:12px;line-height:12px;color:#000;left:408.70px;transform-origin:0 10px;transform:scaleX(0.76);">JOE</span>
<span class="t" style="top:258px;font-size:12px;line-height:12px;color:#000;right:163.60px;transform-origin:100% 10px;transform:scaleX(0.87);">13</span>
<span class="t" style="top:258px;font-size:12px;line-height:12px;color:#000;left:532.40px;transform-origin:0 10px;transform:scaleX(0.9);">M</span>
<span class="t" style="top:258px;font-size:12px;line-height:12px;color:#000;right:68.40px;transform-origin:100% 10px;transform:scaleX(0.9);">63</span>
<span class="t" style="top:258px;font-size:12px;line-height:12px;color:#000;right:8.70px;transform-origin:100% 10px;transform:scaleX(0.9);">105</span>
<span class="t" style="top:276px;font-size:12px;line-height:12px;color:#000;right:288.20px;transform-origin:100% 10px;transform:scaleX(0.9);">14</span>
<span class="t" style="top:276px;font-size:12px;line-height:12px;color:#000;left:408.70px;transform-origin:0 10px;transform:scaleX(0.91);">MICHAEL</span>
<span class="t" style="top:276px;font-size:12px;line-height:12px;color:#000;right:163.60px;transform-origin:100% 10px;transform:scaleX(0.87);">13</span>
<span class="t" style="top:276px;font-size:12px;line-height:12px;color:#000;left:532.40px;transform-origin:0 10px;transform:scaleX(0.9);">M</span>
<span class="t" style="top:276px;font-size:12px;line-height:12px;color:#000;right:68.40px;transform-origin:100% 10px;transform:scaleX(0.9);">58</span>
<span class="t" style="top:276px;font-size:12px;line-height:12px;color:#000;right:8.70px;transform-origin:100% 10px;transform:scaleX(0.9);">95</span>
<span class="t" style="top:294px;font-size:12px;line-height:12px;color:#000;right:288.20px;transform-origin:100% 10px;transform:scaleX(0.9);">15</span>
<span class="t" style="top:294px;font-size:12px;line-height:12px;color:#000;left:408.70px;transform-origin:0 10px;transform:scaleX(0.955);">DAVID</span>
<span class="t" style="top:294px;font-size:12px;line-height:12px;color:#000;right:163.60px;transform-origin:100% 10px;transform:scaleX(0.87);">13</span>
<span class="t" style="top:294px;font-size:12px;line-height:12px;color:#000;left:532.40px;transform-origin:0 10px;transform:scaleX(0.9);">M</span>
<span class="t" style="top:294px;font-size:12px;line-height:12px;color:#000;right:68.40px;transform-origin:100% 10px;transform:scaleX(0.9);">59</span>
<span class="t" style="top:294px;font-size:12px;line-height:12px;color:#000;right:8.70px;transform-origin:100% 10px;transform:scaleX(0.9);">79</span>
<span class="t" style="top:312px;font-size:12px;line-height:12px;color:#000;right:288.20px;transform-origin:100% 10px;transform:scaleX(0.9);">16</span>
<span class="t" style="top:312px;font-size:12px;line-height:12px;color:#000;left:408.70px;transform-origin:0 10px;transform:scaleX(0.8);">JUDY</span>
<span class="t" style="top:312px;font-size:12px;line-height:12px;color:#000;right:163.60px;transform-origin:100% 10px;transform:scaleX(0.87);">14</span>
<span class="t" style="top:312px;font-size:12px;line-height:12px;color:#000;left:532.40px;transform-origin:0 10px;transform:scaleX(0.9);">F</span>
<span class="t" style="top:312px;font-size:12px;line-height:12px;color:#000;right:68.40px;transform-origin:100% 10px;transform:scaleX(0.9);">61</span>
<span class="t" style="top:312px;font-size:12px;line-height:12px;color:#000;right:8.70px;transform-origin:100% 10px;transform:scaleX(0.9);">81</span>
<span class="t" style="top:24px;font-size:12px;line-height:12px;color:#000;font-weight:bold;-webkit-text-stroke:0.25px currentColor;left:343.00px;width:200px;text-align:center;transform-origin:50% 10px;transform:scaleX(0.92);">name</span>
<span class="t" style="top:24px;font-size:12px;line-height:12px;color:#000;font-weight:bold;-webkit-text-stroke:0.25px currentColor;left:404.20px;width:200px;text-align:center;transform-origin:50% 10px;transform:scaleX(0.9);">age</span>
<span class="t" style="top:24px;font-size:12px;line-height:12px;color:#000;font-weight:bold;-webkit-text-stroke:0.25px currentColor;left:452.80px;width:200px;text-align:center;transform-origin:50% 10px;transform:scaleX(0.9);">sex</span>
<span class="t" style="top:24px;font-size:12px;line-height:12px;color:#000;font-weight:bold;-webkit-text-stroke:0.25px currentColor;left:500.70px;width:200px;text-align:center;transform-origin:50% 10px;transform:scaleX(0.92);">height</span>
<span class="t" style="top:24px;font-size:12px;line-height:12px;color:#000;font-weight:bold;-webkit-text-stroke:0.25px currentColor;left:554.00px;width:200px;text-align:center;transform-origin:50% 10px;transform:scaleX(0.92);">weight</span>
</body></html>
